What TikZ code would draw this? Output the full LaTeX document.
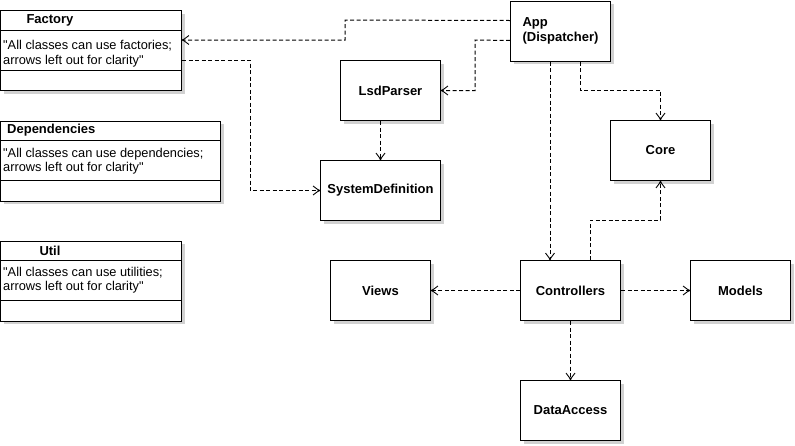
\documentclass[tikz,border=0pt]{standalone}
\usepackage{fontspec}
\setmainfont{Liberation Sans}
\usetikzlibrary{arrows.meta,shadows,calc}
\newcommand{\sq}{\XeTeXglyph\XeTeXcharglyph"22\relax}
\begin{document}
\begin{tikzpicture}[x=1pt,y=-1pt,
  shadowed/.style={general shadow={fill=black!18, shadow xshift=3pt, shadow yshift=-3pt}},
  box/.style={draw, line width=1pt, fill=white, shadowed, inner sep=0pt, anchor=north west,
    minimum width=100pt, minimum height=60pt, font=\bfseries\fontsize{13}{15}\selectfont},
  cls/.style={draw, line width=1pt, fill=white, shadowed, inner sep=0pt, anchor=north west, minimum height=80pt},
  hdr/.style={font=\bfseries\fontsize{13}{14}\selectfont, inner sep=0pt},
  body/.style={font=\fontsize{12.8}{14.5}\selectfont, align=left, inner sep=0pt, anchor=west},
  dep/.style={draw, line width=1pt, dash pattern=on 4pt off 2.5pt,
    -{Straight Barb[length=6pt,width=9pt,line width=0.9pt,sep=-2pt]Circle[length=2.2pt]}}
]
\useasboundingbox (0,0) rectangle (795,445);
% class boxes with compartments
\node[cls, minimum width=181pt] (factory) at (0,10) {};
\draw[line width=1pt] ([yshift=-20pt]factory.north west) -- ([yshift=-20pt]factory.north east)
  ([yshift=-60pt]factory.north west) -- ([yshift=-60pt]factory.north east);
\node[hdr] (factoryh) at (50,20.5) {Factory};
\node[body] (factoryb) at (3,53.5) {\sq All classes can use factories;\\arrows left out for clarity\sq};

\node[cls, minimum width=220pt] (deps) at (0,120.5) {};
\draw[line width=1pt] ([yshift=-20pt]deps.north west) -- ([yshift=-20pt]deps.north east)
  ([yshift=-60pt]deps.north west) -- ([yshift=-60pt]deps.north east);
\node[hdr, anchor=west] (depsh) at (7,130.5) {Dependencies};
\node[body] (depsb) at (3,161) {\sq All classes can use dependencies;\\arrows left out for clarity\sq};

\node[cls, minimum width=181pt] (util) at (0,240.5) {};
\draw[line width=1pt] ([yshift=-20pt]util.north west) -- ([yshift=-20pt]util.north east)
  ([yshift=-60pt]util.north west) -- ([yshift=-60pt]util.north east);
\node[hdr] (utilh) at (50,250.5) {Util};
\node[body] (utilb) at (3,280) {\sq All classes can use utilities;\\arrows left out for clarity\sq};

% simple boxes
\node[box, align=left] (app) at (510,0.5) {App\\(Dispatcher)};
\node[box] (lsd) at (340,60) {LsdParser};
\node[box, minimum width=120pt] (sysdef) at (320,160) {SystemDefinition};
\node[box] (core) at (610,120) {Core};
\node[box] (ctrl) at (520,260) {Controllers};
\node[box] (views) at (330,260) {Views};
\node[box] (models) at (690,260) {Models};
\node[box] (da) at (520,380) {DataAccess};

% connectors
\draw[dep] ([yshift=-20pt]app.north west) -- (345,20) |- ([yshift=-30pt]factory.north east);
\draw[dep] ([yshift=-50pt]factory.north east) -- (250,60) |- (sysdef.west);
\draw[dep] ([yshift=-40pt]app.north west) -- (475,40) |- (lsd.east);
\draw[dep] (sysdef.north |- lsd.south) -- (sysdef.north);
\draw[dep] ([xshift=70pt]app.south west) -- (580,90) -| (core.north);
\draw[dep] ([xshift=40pt]app.south west) -- ([xshift=30pt]ctrl.north west);
\draw[dep] ([xshift=70pt]ctrl.north west) -- (590,220) -| (core.south);
\draw[dep] (ctrl.west) -- (views.east);
\draw[dep] (ctrl.east) -- (models.west);
\draw[dep] (ctrl.south) -- (da.north);
\end{tikzpicture}
\end{document}
